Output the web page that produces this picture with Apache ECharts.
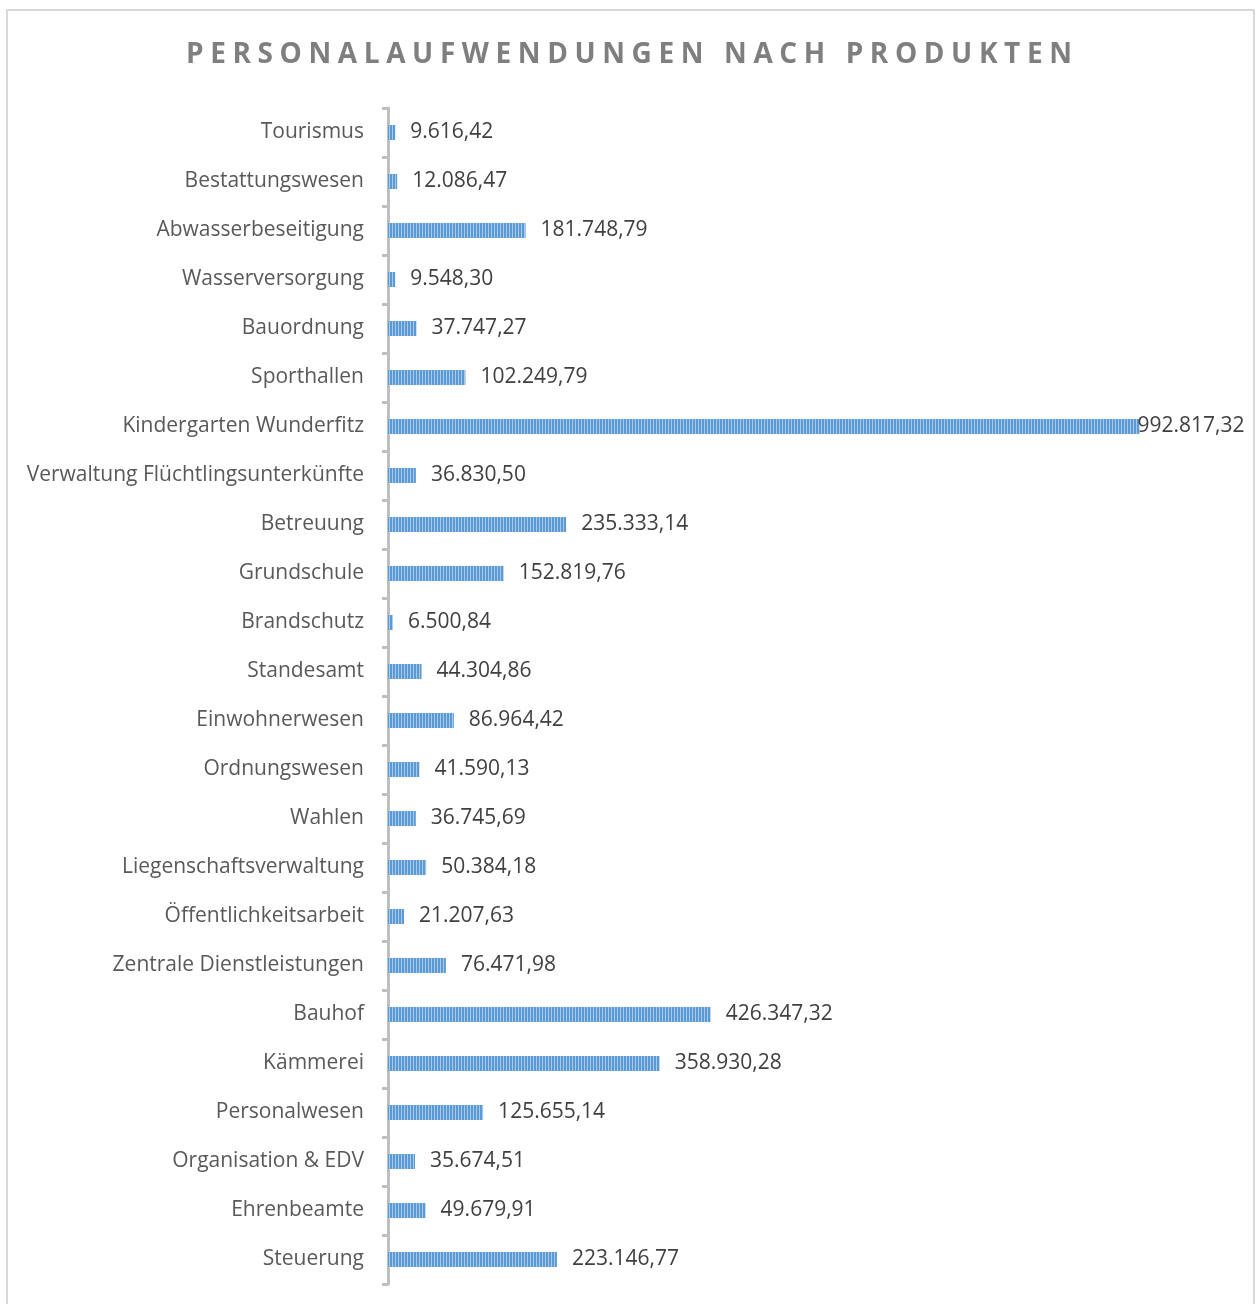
<!DOCTYPE html>
<html>
<head>
<meta charset="utf-8">
<script src="https://cdn.jsdelivr.net/npm/echarts@6/dist/echarts.min.js"></script>
<style>
  html, body { margin: 0; padding: 0; background: #fff; }
  .wrap { position: relative; width: 1258px; height: 1304px; overflow: hidden; }
  #chart { width: 1258px; height: 1304px; }
  .chart-title {
    position: absolute;
    left: 0;
    top: 38px;
    width: 1258px;
    text-align: center;
    font-family: 'Open Sans', sans-serif;
    font-weight: bold;
    font-size: 28px;
    line-height: 28px;
    color: #7f7f7f;
    letter-spacing: 6.6px;
    padding-left: 6.6px;
    box-sizing: border-box;
    white-space: nowrap;
  }
</style>
</head>
<body>
<div class="wrap">
  <div id="chart"></div>
  <div class="chart-title">PERSONALAUFWENDUNGEN NACH PRODUKTEN</div>
</div>
<script>
  // Produkte von oben nach unten
  const categories = [
    'Tourismus', 'Bestattungswesen', 'Abwasserbeseitigung', 'Wasserversorgung',
    'Bauordnung', 'Sporthallen', 'Kindergarten Wunderfitz',
    'Verwaltung Flüchtlingsunterkünfte', 'Betreuung', 'Grundschule', 'Brandschutz',
    'Standesamt', 'Einwohnerwesen', 'Ordnungswesen', 'Wahlen',
    'Liegenschaftsverwaltung', 'Öffentlichkeitsarbeit', 'Zentrale Dienstleistungen',
    'Bauhof', 'Kämmerei', 'Personalwesen', 'Organisation & EDV', 'Ehrenbeamte', 'Steuerung'
  ]
  const values = [
    9616.42, 12086.47, 181748.79, 9548.30,
    37747.27, 102249.79, 992817.32,
    36830.50, 235333.14, 152819.76, 6500.84,
    44304.86, 86964.42, 41590.13, 36745.69,
    50384.18, 21207.63, 76471.98,
    426347.32, 358930.28, 125655.14, 35674.51, 49679.91, 223146.77
  ]

  // deutsches Zahlenformat 1.234,56
  function formatDe (v) {
    const parts = v.toFixed(2).split('.')
    const int = parts[0].replace(/\B(?=(\d{3})+(?!\d))/g, '.')
    return int + ',' + parts[1]
  }

  // senkrecht gestreiftes Füllmuster
  const pat = document.createElement('canvas')
  pat.width = 3
  pat.height = 1
  const ctx = pat.getContext('2d')
  ctx.fillStyle = '#5b9bd5'
  ctx.fillRect(0, 0, 2, 1)
  ctx.fillStyle = '#a9c8ea'
  ctx.fillRect(2, 0, 1, 1)

  const maxVal = Math.max.apply(null, values)
  const seriesData = values.map(function (v) {
    if (v === maxVal) {
      return { value: v, label: { distance: 0, offset: [-2, 0] } }
    }
    return v
  })

  const myChart = echarts.init(document.getElementById('chart'))
  const option = {
    animation: false,
    textStyle: { fontFamily: 'Open Sans' },
    graphic: [{
      type: 'rect',
      shape: { x: 7, y: 10, width: 1247, height: 1310 },
      style: { fill: 'none', stroke: '#d9d9d9', lineWidth: 2 },
      silent: true
    }],
    grid: {
      left: 388,
      right: 113,
      top: 108,
      bottom: 20,
      containLabel: false
    },
    xAxis: {
      type: 'value',
      min: 0,
      max: 1000000,
      show: false
    },
    yAxis: {
      type: 'category',
      data: categories,
      inverse: true,
      offset: 4,
      axisLine: { lineStyle: { color: '#bfbfbf', width: 3 } },
      axisTick: { show: true, length: 6, lineStyle: { color: '#bfbfbf', width: 3 } },
      axisLabel: {
        margin: 20,
        fontSize: 21,
        color: '#595959',
        fontFamily: 'Open Sans',
        padding: [5, 0, 0, 0]
      }
    },
    series: [{
      type: 'bar',
      data: seriesData,
      barWidth: 15,
      itemStyle: {
        color: { image: pat, repeat: 'repeat' }
      },
      label: {
        show: true,
        position: 'right',
        distance: 15,
        fontSize: 21,
        color: '#404040',
        fontFamily: 'Open Sans',
        padding: [5, 0, 0, 0],
        formatter: function (p) { return formatDe(p.value) }
      }
    }]
  }
  myChart.setOption(option)
</script>
</body>
</html>
